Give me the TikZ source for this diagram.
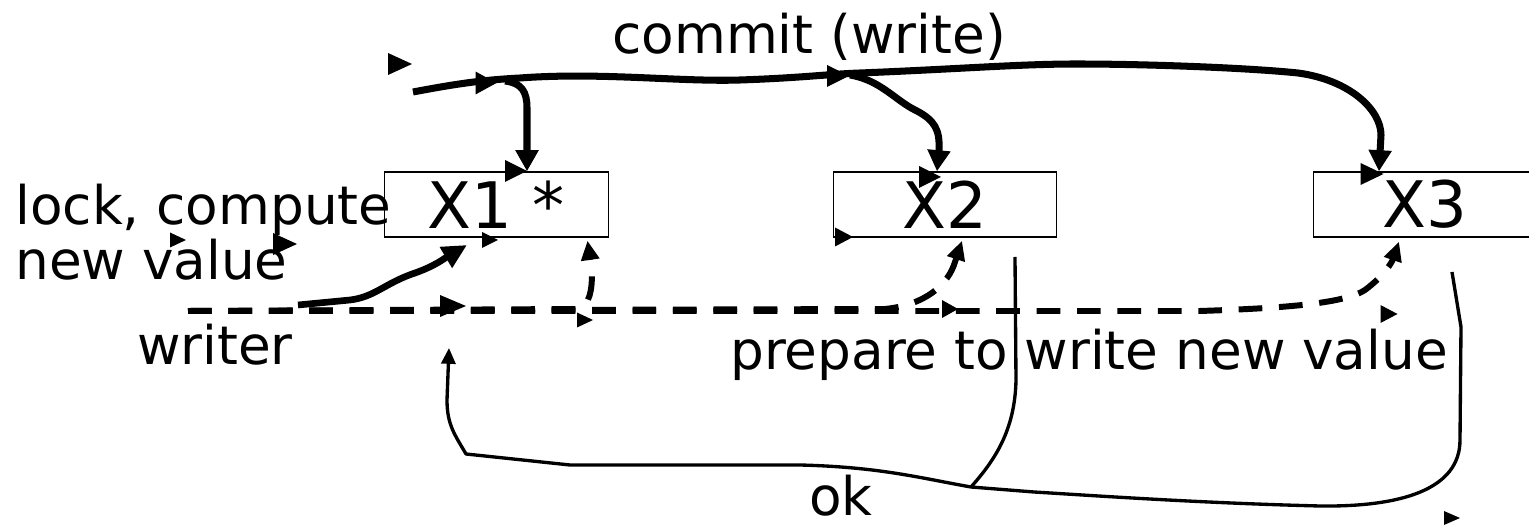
\documentclass[tikz,border=0pt]{standalone}
\usepackage{fontspec}
\setmainfont{DejaVu Sans}
\usetikzlibrary{arrows.meta,calc}

\begin{document}
\begin{tikzpicture}[x=0.02cm,y=-0.02cm,
  lbl/.style={font=\fontsize{30.3}{31.5}\selectfont, inner sep=0pt},
  cell/.style={draw, line width=0.8pt, minimum width=4.47cm, minimum height=1.3cm,
    inner sep=0pt, font=\fontsize{36.5}{38}\selectfont},
  commitline/.style={line width=4pt, line join=round},
  commitarrow/.style={commitline, -{Triangle[length=12pt,width=12.5pt]}},
  lockarrow/.style={line width=3.8pt, line join=round, -{Triangle[length=14pt,width=13pt]}},
  prepline/.style={line width=3.4pt, dash pattern=on 13.5pt off 9.5pt,
    -{Triangle[length=11pt,width=10pt]}},
  okplain/.style={line width=1.9pt, line join=round},
  okline/.style={okplain, -{Triangle[length=9pt,width=8pt]}},
  tip/.pic={\fill (-1,-1) -- (1,0) -- (-1,1) -- cycle;},
]
\useasboundingbox (0,0) rectangle (1529,526);

% the three data items
\node[cell] (x1) at (496.5,204.5) {X1 *};
\node[cell] (x2) at (945,204.5) {X2};
\node[cell] (x3) at (1425,204.5) {X3};

% labels
\node[lbl, anchor=base west] (commit) at (612,54) {commit (write)};
\node[lbl, anchor=base west, align=left] (lock) at (15,280) {lock, compute\\new value};
\node[lbl, anchor=base] (writer) at (215,365) {writer};
\node[lbl, anchor=base west] (prep) at (730,370) {prepare to write new value};
\node[lbl, anchor=base west] (ok) at (809,516) {ok};

% end points of the connectors
\coordinate (cstart) at (413,92);
\coordinate (b1) at (505,81);
\coordinate (b2) at (850,75);
\coordinate (x1top) at ($(x1.north)+(30.5,0)$);
\coordinate (x2top) at ($(x2.north)+(-8,0)$);
\coordinate (x3top) at ($(x3.north)+(-46,0)$);
\coordinate (x1bot) at ($(x1.south)+(91,3)$);
\coordinate (x2bot) at ($(x2.south)+(17,3)$);
\coordinate (x3bot) at ($(x3.south)+(-26,4)$);
\coordinate (x1in) at (467,245);
\coordinate (w0) at (188,311);
\coordinate (l0) at (298,305);
\coordinate (r2) at (1015,257);
\coordinate (r3) at (1452,272);
\coordinate (j) at (971,487);
\coordinate (wret) at (449,348);

% commit (write)
\draw[commitarrow] (cstart) .. controls (450,85) and (480,80) .. (520,78)
  .. controls (600,72) and (680,82) .. (740,80)
  .. controls (800,78) and (830,74) .. (860,73)
  .. controls (960,69) and (1020,64) .. (1076,64)
  .. controls (1150,64) and (1250,68) .. (1298,73)
  .. controls (1350,80) and (1381,110) .. (1381,135)
  -- (x3top);
\draw[commitarrow] (b1) .. controls (522,83) and (527,92) .. (527,108) -- (x1top);
\draw[commitarrow] (b2) .. controls (880,80) and (895,100) .. (915,110)
  .. controls (935,120) and (940,130) .. (939,150) -- (x2top);

% lock, compute new value
\draw[lockarrow] (l0) -- (350,300) .. controls (375,297) and (385,283) .. (415,273)
  .. controls (435,266) and (445,258) .. (x1in);

% prepare to write new value
\draw[prepline] (w0) -- (578,309) .. controls (590,305) and (592,290) .. (592,272) -- (x1bot);
\draw[prepline] (w0) -- (885,309) .. controls (925,305) and (948,285) .. (955,262) -- (x2bot);
\draw[prepline] (w0) -- (1200,311) .. controls (1290,308) and (1345,303) .. (1365,290)
  .. controls (1385,275) and (1392,262) .. (x3bot);

% ok
\draw[okplain] (r2) -- (1016,380) .. controls (1015,430) and (995,460) .. (j);
\draw[okplain] (r3) -- (1461,327) -- (1460,440) .. controls (1460,490) and (1400,507) .. (1320,506)
  .. controls (1200,503) and (1100,496) .. (1034,492) -- (j);
\draw[okline] (j) .. controls (920,478) and (880,467) .. (800,465) -- (570,465) -- (466,454)
  .. controls (455,435) and (447,425) .. (447,400) -- (wret);

% loose arrow heads
\pic[xscale=12,yscale=11] at (400,64) {tip};
\pic[xscale=8,yscale=7.5] at (178,240) {tip};
\pic[xscale=12,yscale=11] at (285,244) {tip};
\pic[xscale=8,yscale=8] at (490,240) {tip};
\pic[xscale=9,yscale=9.5] at (844,237) {tip};
\pic[xscale=13,yscale=11] at (453,306) {tip};
\pic[xscale=8,yscale=7.5] at (585,320) {tip};
\pic[xscale=8,yscale=9] at (950,309) {tip};
\pic[xscale=8.5,yscale=9] at (1389,314) {tip};
\pic[xscale=8,yscale=7] at (1452,518) {tip};
\pic[xscale=10.5,yscale=11.5] at (486,83) {tip};
\pic[xscale=11,yscale=11] at (838,76) {tip};
\pic[xscale=11,yscale=11] at (516,171) {tip};
\pic[xscale=11,yscale=11] at (930,177) {tip};
\pic[xscale=11.5,yscale=11] at (1372,174) {tip};
\end{tikzpicture}
\end{document}
